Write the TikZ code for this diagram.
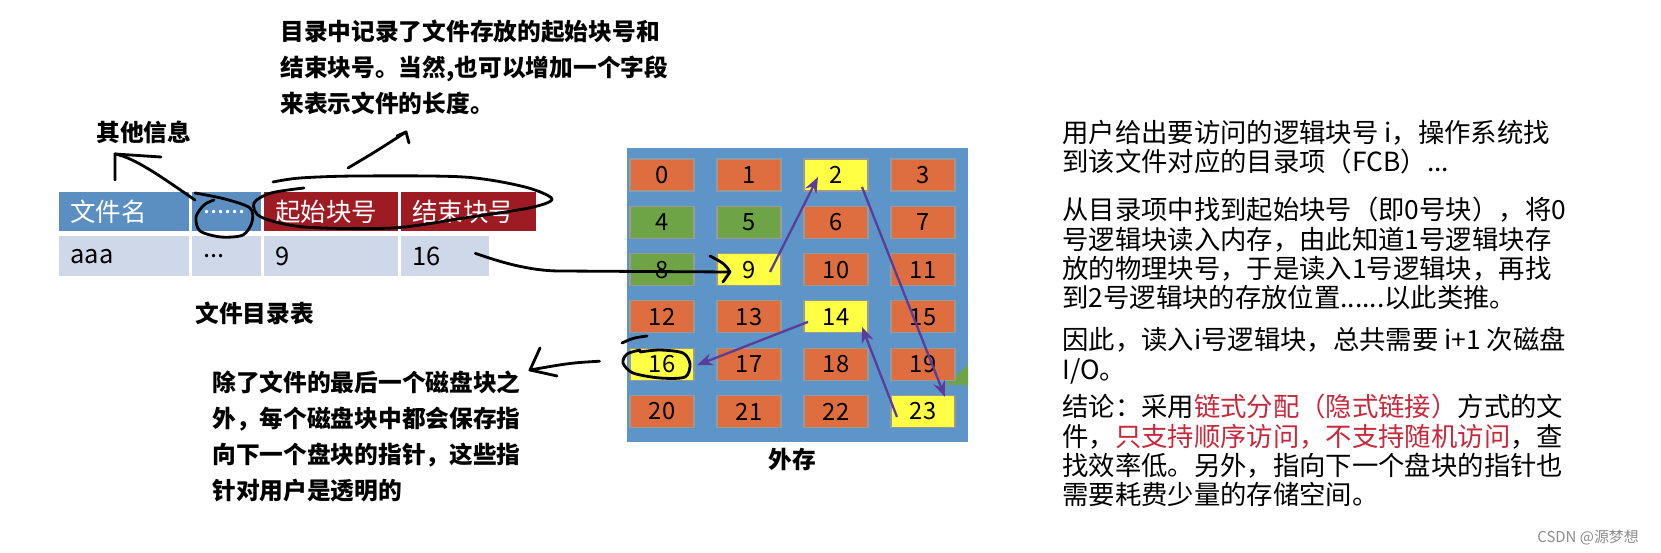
\documentclass[tikz,border=0pt]{standalone}
\usepackage{fontspec}
\setmainfont{Noto Sans CJK SC}
\usetikzlibrary{arrows.meta,calc}
\definecolor{hdblue}{RGB}{91,143,194}
\definecolor{hdred}{RGB}{158,27,36}
\definecolor{rowgray}{RGB}{206,216,232}
\definecolor{diskbg}{RGB}{94,149,201}
\definecolor{org}{RGB}{222,109,63}
\definecolor{grn}{RGB}{111,164,70}
\definecolor{yel}{RGB}{255,255,68}
\definecolor{ptrc}{RGB}{91,61,153}
\definecolor{hl}{RGB}{200,40,60}
\begin{document}
\begin{tikzpicture}[x=0.02cm, y=-0.02cm,
  note/.style={font=\bfseries\fontsize{13.5}{20.5}\selectfont, align=left, inner sep=0},
  txt/.style={font=\fontsize{15}{16.7}\selectfont, align=left, inner sep=0, anchor=north west},
  cell/.style={anchor=north west, inner xsep=0.22cm, inner ysep=0, align=left, font=\fontsize{14.5}{16}\selectfont},
  blk/.style={draw=black!40, line width=0.6pt, minimum width=1.28cm, minimum height=0.64cm, inner sep=0, font=\fontsize{13.5}{14}\selectfont},
  ptr/.style={draw=ptrc, fill=ptrc, line width=1.3pt, -{Stealth[length=9pt,width=7pt]}},
  hand/.style={line width=1.6pt, line cap=round, line join=round}]
\useasboundingbox[fill=white] (0,0) rectangle (1661,553);

\node (h1) [cell, fill=hdblue, text=white, text width=2.16cm, minimum height=0.78cm] at (59,192) {文件名};
\node (h2) [cell, fill=hdblue, text=white, text width=0.94cm, minimum height=0.78cm] at (192,192) {......};
\node (h3) [cell, fill=hdred, text=white, text width=2.24cm, minimum height=0.78cm] at (264,192) {起始块号};
\node (h4) [cell, fill=hdred, text=white, text width=2.26cm, minimum height=0.78cm] at (401,192) {结束块号};
\node (d1) [cell, fill=rowgray, text width=2.16cm, minimum height=0.8cm] at (59,236) {aaa};
\node (d2) [cell, fill=rowgray, text width=0.94cm, minimum height=0.8cm] at (192,236) {...};
\node (d3) [cell, fill=rowgray, text width=2.24cm, minimum height=0.8cm] at (264,236) {9};
\node (d4) [cell, fill=rowgray, text width=1.32cm, minimum height=0.8cm] at (401,236) {16};

\fill[diskbg] (627,148) rectangle (968,442);
\fill[grn] (945,385) -- (968,365) -- (968,385) -- cycle;
\foreach \n/\c in {0/org,1/org,2/yel,3/org,4/grn,5/grn,6/org,7/org,8/grn,9/yel,10/org,11/org,
  12/org,13/org,14/yel,15/org,16/yel,17/org,18/org,19/org,20/org,21/org,22/org,23/yel}
  \node (b\n) [blk, fill=\c] at ({662+87*mod(\n,4)}, {175+47.3*int(\n/4)}) {\n};

\draw[ptr] ($(b9.center)+(21,2.4)$) -- ($(b2.center)+(-18,2)$);
\draw[ptr] ($(b2.center)+(26,12)$) -- ($(b23.center)+(22,-14.5)$);
\draw[ptr] ($(b23.center)+(-26,5.5)$) -- ($(b14.center)+(26,10)$);
\draw[ptr] ($(b14.center)+(-28,5)$) -- ($(b16.center)+(35,1)$);

\node (top) [note, anchor=north west] at (280,20) {目录中记录了文件存放的起始块号和\\结束块号。当然,也可以增加一个字段\\来表示文件的长度。};
\node (info) [note, anchor=west] at (96,132) {其他信息};
\node (dir) [note, anchor=west] at (195,313) {文件目录表};
\node (ptrnote) [note, anchor=north west] at (212,370) {除了文件的最后一个磁盘块之\\外，每个磁盘块中都会保存指\\向下一个盘块的指针，这些指\\针对用户是透明的};
\node (ext) [note] at (792,460) {外存};

\node (p1) [txt] at (1062,120) {用户给出要访问的逻辑块号 i，操作系统找\\到该文件对应的目录项（FCB）...};
\node (p2) [txt] at (1062,197) {从目录项中找到起始块号（即0号块），将0\\号逻辑块读入内存，由此知道1号逻辑块存\\放的物理块号，于是读入1号逻辑块，再找\\到2号逻辑块的存放位置......以此类推。};
\node (p3) [txt] at (1062,327) {因此，读入i号逻辑块，总共需要 i+1 次磁盘\\I/O。};
\node (p4) [txt] at (1062,394) {结论：采用\textcolor{hl}{链式分配（隐式链接）}方式的文\\件，\textcolor{hl}{只支持顺序访问，不支持随机访问}，查\\找效率低。另外，指向下一个盘块的指针也\\需要耗费少量的存储空间。};
\node (mark) [anchor=east, text=black!45, font=\fontsize{8.5}{10}\selectfont] at (1645,538) {CSDN @源梦想};

\coordinate (infotip) at (115,154);
\draw[hand] ($(h2.north west)+(3,8)$) .. controls (160,176) and (135,158) .. (infotip);
\draw[hand] (115,180) -- (infotip) -- (161,157);
\draw[hand] plot[smooth] coordinates {(195,193) (225,199) (250,208) (252,222) (243,235) (221,237) (200,231) (196,217) (204,205) (214,200)};
\draw[hand] plot[smooth] coordinates {(273,182) (300,178) (357,176) (464,177) (525,187) (552,199) (529,208) (464,218) (393,228) (304,227) (261,217) (254,203) (271,193) (304,188)};
\coordinate (toptip) at (406,132);
\draw[hand] (348,168) .. controls (375,152) .. (toptip);
\draw[hand] (397,136) -- (toptip) -- (409,143);

\coordinate (tip9) at ($(b9.center)+(-19,2.4)$);
\draw[hand] ($(d4.center)+(30,-3)$) .. controls (500,262) and (530,271) .. (560,271) -- (tip9);
\draw[hand] (710,256) .. controls (725,264) .. (tip9) -- (723,282);

\draw[hand] (622,343) .. controls (633,338) .. (647,336);
\draw[hand] plot[smooth] coordinates {(640,352) (660,350) (683,353) (690,364) (685,377) (660,378) (633,373) (623,363) (627,354) (640,350)};
\coordinate (notetip) at (530,370);
\draw[hand] ($(b16.west)+(-30,-3)$) .. controls (570,363) .. (notetip);
\draw[hand] (540,348) -- (notetip) -- (557,376);
\end{tikzpicture}
\end{document}
